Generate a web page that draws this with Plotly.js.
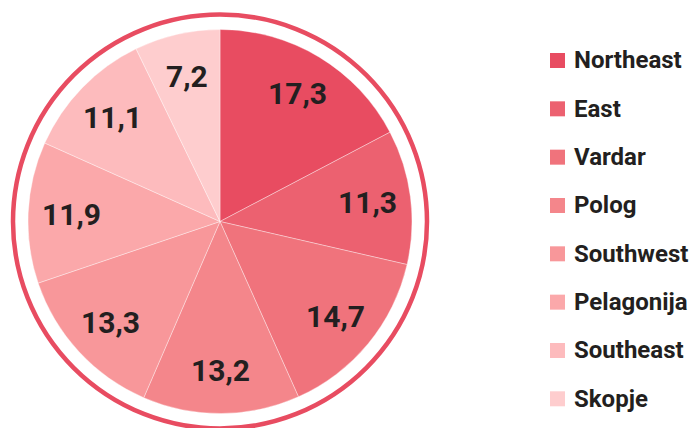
<!DOCTYPE html>
<html>
<head>
<meta charset="utf-8">
<script src="https://cdn.plot.ly/plotly-3.0.1.min.js"></script>
<style>html,body{margin:0;padding:0;background:#fff;}#chart{width:695px;height:428px;}</style>
</head>
<body>
<div id="chart"></div>
<script>
const categories = ["Northeast", "East", "Vardar", "Polog", "Southwest", "Pelagonija", "Southeast", "Skopje"];
const values = [17.3, 11.3, 14.7, 13.2, 13.3, 11.9, 11.1, 7.2];
const colors = ["#e84c61", "#ec6170", "#f0737c", "#f4868b", "#f8979a", "#fba8aa", "#fdbbbd", "#fecdce"];

const W = 695, H = 428;
const cx = 220, cy = 221.5, R = 192, ringR = 207, labelR = 149;
const px = x => x / W;
const py = y => 1 - y / H;

const total = values.reduce((a, b) => a + b, 0);
const annotations = [];
let cum = 0;
values.forEach((v, i) => {
  const mid = (cum + v / 2) / total * 2 * Math.PI;
  cum += v;
  annotations.push({
    xref: 'paper', yref: 'paper',
    x: px(cx + labelR * Math.sin(mid)), y: py(cy - labelR * Math.cos(mid)),
    text: v.toFixed(1).replace('.', ','),
    showarrow: false, xanchor: 'center', yanchor: 'middle',
    font: {family: 'Roboto', size: 30, color: '#231f20', weight: 700}
  });
});

const shapes = [{
  type: 'circle', xref: 'paper', yref: 'paper',
  x0: px(cx - ringR), x1: px(cx + ringR), y0: py(cy + ringR), y1: py(cy - ringR),
  line: {color: '#e84c61', width: 4.5}, layer: 'below'
}];

const legX = 550, legY0 = 60.5, legStep = 48.33, sq = 15;
categories.forEach((c, i) => {
  const yc = legY0 + i * legStep;
  shapes.push({
    type: 'rect', xref: 'paper', yref: 'paper',
    x0: px(legX), x1: px(legX + sq), y0: py(yc + sq / 2), y1: py(yc - sq / 2),
    fillcolor: colors[i], line: {width: 0}
  });
  annotations.push({
    xref: 'paper', yref: 'paper', x: px(572), y: py(yc),
    text: c, showarrow: false, xanchor: 'left', yanchor: 'middle',
    font: {family: 'Roboto', size: 24, color: '#231f20', weight: 700}
  });
});

const trace = {
  type: 'pie',
  labels: categories,
  values: values,
  sort: false,
  direction: 'clockwise',
  rotation: 0,
  textinfo: 'none',
  hoverinfo: 'label+value',
  marker: {colors: colors, line: {color: 'rgba(255,255,255,0.6)', width: 0.6}},
  domain: {x: [px(cx - R), px(cx + R)], y: [py(cy + R), py(cy - R)]},
  showlegend: false
};

const layout = {
  width: W, height: H,
  margin: {l: 0, r: 0, t: 0, b: 0},
  paper_bgcolor: '#ffffff',
  showlegend: false,
  shapes: shapes,
  annotations: annotations
};

Plotly.newPlot('chart', [trace], layout, {displayModeBar: false, staticPlot: true});
</script>
</body>
</html>
